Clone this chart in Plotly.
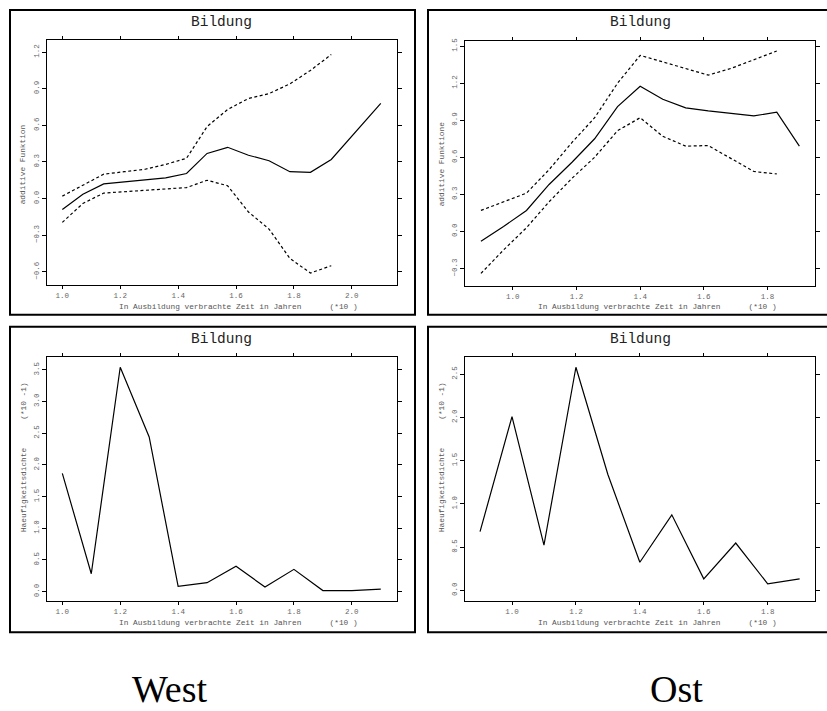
import plotly.graph_objects as go

W, H = 827, 711

# ---- data ----
west_x = [1.0, 1.071, 1.143, 1.214, 1.286, 1.357, 1.429, 1.5, 1.571, 1.643, 1.714, 1.786, 1.857, 1.929, 2.1]
west_fit = [-0.09, 0.035, 0.12, 0.135, 0.15, 0.17, 0.205, 0.37, 0.42, 0.355, 0.31, 0.22, 0.215, 0.32, 0.78]
west_ci_x = [1.0, 1.071, 1.143, 1.214, 1.286, 1.357, 1.429, 1.5, 1.571, 1.643, 1.714, 1.786, 1.857, 1.929]
west_upper = [0.02, 0.11, 0.2, 0.22, 0.24, 0.28, 0.33, 0.59, 0.73, 0.82, 0.86, 0.94, 1.05, 1.18]
west_lower = [-0.195, -0.04, 0.045, 0.055, 0.07, 0.075, 0.09, 0.15, 0.105, -0.11, -0.25, -0.49, -0.61, -0.55]

ost_x = [0.9, 0.971, 1.043, 1.114, 1.186, 1.257, 1.329, 1.4, 1.471, 1.543, 1.614, 1.686, 1.757, 1.829, 1.9]
ost_fit = [-0.08, 0.04, 0.17, 0.38, 0.56, 0.75, 1.01, 1.175, 1.07, 1.0, 0.975, 0.955, 0.935, 0.965, 0.69]
ost_ci_x = [0.9, 0.971, 1.043, 1.114, 1.186, 1.257, 1.329, 1.4, 1.471, 1.543, 1.614, 1.686, 1.757, 1.829]
ost_upper = [0.17, 0.24, 0.31, 0.5, 0.72, 0.92, 1.2, 1.425, 1.37, 1.32, 1.265, 1.32, 1.39, 1.46]
ost_lower = [-0.34, -0.15, 0.03, 0.24, 0.43, 0.6, 0.815, 0.92, 0.77, 0.69, 0.695, 0.59, 0.485, 0.465]

west_dens_x = [1.0, 1.1, 1.2, 1.3, 1.4, 1.5, 1.6, 1.7, 1.8, 1.9, 2.0, 2.1]
west_dens = [1.865, 0.28, 3.54, 2.44, 0.08, 0.14, 0.40, 0.07, 0.35, 0.015, 0.015, 0.037]
ost_dens_x = [0.9, 1.0, 1.1, 1.2, 1.3, 1.4, 1.5, 1.6, 1.7, 1.8, 1.9]
ost_dens = [0.68, 2.01, 0.525, 2.58, 1.34, 0.326, 0.874, 0.134, 0.548, 0.077, 0.134]

west_xticks = [1.0, 1.2, 1.4, 1.6, 1.8, 2.0]
ost_xticks = [1.0, 1.2, 1.4, 1.6, 1.8]
west_fit_yticks = [-0.6, -0.3, 0.0, 0.3, 0.6, 0.9, 1.2]
ost_fit_yticks = [-0.3, 0.0, 0.3, 0.6, 0.9, 1.2, 1.5]
west_dens_yticks = [0.0, 0.5, 1.0, 1.5, 2.0, 2.5, 3.0, 3.5]
ost_dens_yticks = [0.0, 0.5, 1.0, 1.5, 2.0, 2.5]

title_text = "Bildung"
xlabel_text = "In Ausbildung verbrachte Zeit in Jahren" + "\u00a0" * 6 + "(*10\u00a0)"
ylabel_fit_west = "additive Funktion"
ylabel_fit_ost = "additive Funktione"
ylabel_dens = "Haeufigkeitsdichte" + "\u00a0" * 6 + "(*10\u00a0-1)"
region_labels = ["West", "Ost"]

MONO = "Liberation Mono, Courier New, monospace"

# ---- layout geometry (pixels) ----
plots = {
    "tl": dict(x0=46.7, x1=396.7, y0=37.3, y1=283.3, xr=[0.946, 2.155], yr=[-0.709, 1.298]),
    "tr": dict(x0=464.7, x1=815.3, y0=38.3, y1=284.0, xr=[0.849, 1.95], yr=[-0.44, 1.54]),
    "bl": dict(x0=46.7, x1=396.7, y0=355.0, y1=601.0, xr=[0.946, 2.155], yr=[-0.157, 3.71]),
    "br": dict(x0=464.7, x1=815.3, y0=355.7, y1=601.0, xr=[0.852, 1.949], yr=[-0.127, 2.696]),
}

fig = go.Figure()
layout = dict(width=W, height=H, margin=dict(l=0, r=0, t=0, b=0),
              paper_bgcolor="white", plot_bgcolor="white", showlegend=False)

order = ["tl", "tr", "bl", "br"]
xticks_map = {"tl": west_xticks, "tr": ost_xticks, "bl": west_xticks, "br": ost_xticks}
yticks_map = {"tl": west_fit_yticks, "tr": ost_fit_yticks, "bl": west_dens_yticks, "br": ost_dens_yticks}

for i, key in enumerate(order):
    p = plots[key]
    n = "" if i == 0 else str(i + 1)
    xa = dict(domain=[p["x0"] / W, p["x1"] / W], range=p["xr"], anchor="y" + n,
              tickvals=xticks_map[key], tickformat=".1f", ticks="outside", ticklen=3,
              tickcolor="black", tickwidth=1, showline=True, linecolor="black", linewidth=1,
              mirror="ticks", showgrid=False, zeroline=False,
              tickfont=dict(family=MONO, size=7.5, color="#666"))
    ya = dict(domain=[1 - p["y1"] / H, 1 - p["y0"] / H], range=p["yr"], anchor="x" + n,
              tickvals=yticks_map[key], tickformat=".1f", ticks="outside", ticklen=4,
              tickcolor="black", tickwidth=1, showline=True, linecolor="black", linewidth=1,
              mirror="ticks", showgrid=False, zeroline=False, tickangle=-90,
              tickfont=dict(family=MONO, size=7.5, color="#666"))
    layout["xaxis" + n] = xa
    layout["yaxis" + n] = ya

solid = dict(color="black", width=1.2)
dashed = dict(color="black", width=1.2, dash="3px,2.5px")

fig.add_trace(go.Scatter(x=west_x, y=west_fit, mode="lines", line=solid, xaxis="x", yaxis="y"))
fig.add_trace(go.Scatter(x=west_ci_x, y=west_upper, mode="lines", line=dashed, xaxis="x", yaxis="y"))
fig.add_trace(go.Scatter(x=west_ci_x, y=west_lower, mode="lines", line=dashed, xaxis="x", yaxis="y"))

fig.add_trace(go.Scatter(x=ost_x, y=ost_fit, mode="lines", line=solid, xaxis="x2", yaxis="y2"))
fig.add_trace(go.Scatter(x=ost_ci_x, y=ost_upper, mode="lines", line=dashed, xaxis="x2", yaxis="y2"))
fig.add_trace(go.Scatter(x=ost_ci_x, y=ost_lower, mode="lines", line=dashed, xaxis="x2", yaxis="y2"))

fig.add_trace(go.Scatter(x=west_dens_x, y=west_dens, mode="lines", line=solid, xaxis="x3", yaxis="y3"))
fig.add_trace(go.Scatter(x=ost_dens_x, y=ost_dens, mode="lines", line=solid, xaxis="x4", yaxis="y4"))

annotations = []
shapes = []

def px(x):
    return x / W

def py(y):
    return 1 - y / H

# outer boxes
boxes = [(10, 7, 415, 313), (428, 7, 840, 313), (10, 325, 415, 632), (428, 325, 840, 632)]
for (x0, y0, x1, y1) in boxes:
    shapes.append(dict(type="rect", xref="paper", yref="paper", x0=px(x0), x1=px(x1),
                       y0=py(y1), y1=py(y0), line=dict(color="black", width=2)))

title_y = {"tl": 19, "tr": 19, "bl": 337, "br": 337}
xlab_y = {"tl": 305, "tr": 305, "bl": 623, "br": 623}
ylab = {"tl": (ylabel_fit_west, 23, 162), "tr": (ylabel_fit_ost, 442, 162),
        "bl": (ylabel_dens, 24, 456), "br": (ylabel_dens, 442, 456)}

for key in order:
    p = plots[key]
    cx = (p["x0"] + p["x1"]) / 2
    annotations.append(dict(text=title_text, xref="paper", yref="paper", x=px(cx), y=py(title_y[key]),
                            xanchor="center", yanchor="middle", showarrow=False,
                            font=dict(family=MONO, size=14.5, color="#222")))
    annotations.append(dict(text=xlabel_text, xref="paper", yref="paper", x=px(cx + 17), y=py(xlab_y[key]),
                            xanchor="center", yanchor="middle", showarrow=False,
                            font=dict(family=MONO, size=7.8, color="#555")))
    t, lx, ly = ylab[key]
    annotations.append(dict(text=t, xref="paper", yref="paper", x=px(lx), y=py(ly), textangle=-90,
                            xanchor="center", yanchor="middle", showarrow=False,
                            font=dict(family=MONO, size=7.8, color="#555")))

for lab, cx in zip(region_labels, [169, 676]):
    annotations.append(dict(text=lab, xref="paper", yref="paper", x=px(cx), y=py(689),
                            xanchor="center", yanchor="middle", showarrow=False,
                            font=dict(family="Liberation Serif, serif", size=38, color="black")))

layout["annotations"] = annotations
layout["shapes"] = shapes
fig.update_layout(**layout)

fig.write_html("out.html", config={"displayModeBar": False},
               post_script="document.body.style.margin='0';document.body.style.padding='0';")
